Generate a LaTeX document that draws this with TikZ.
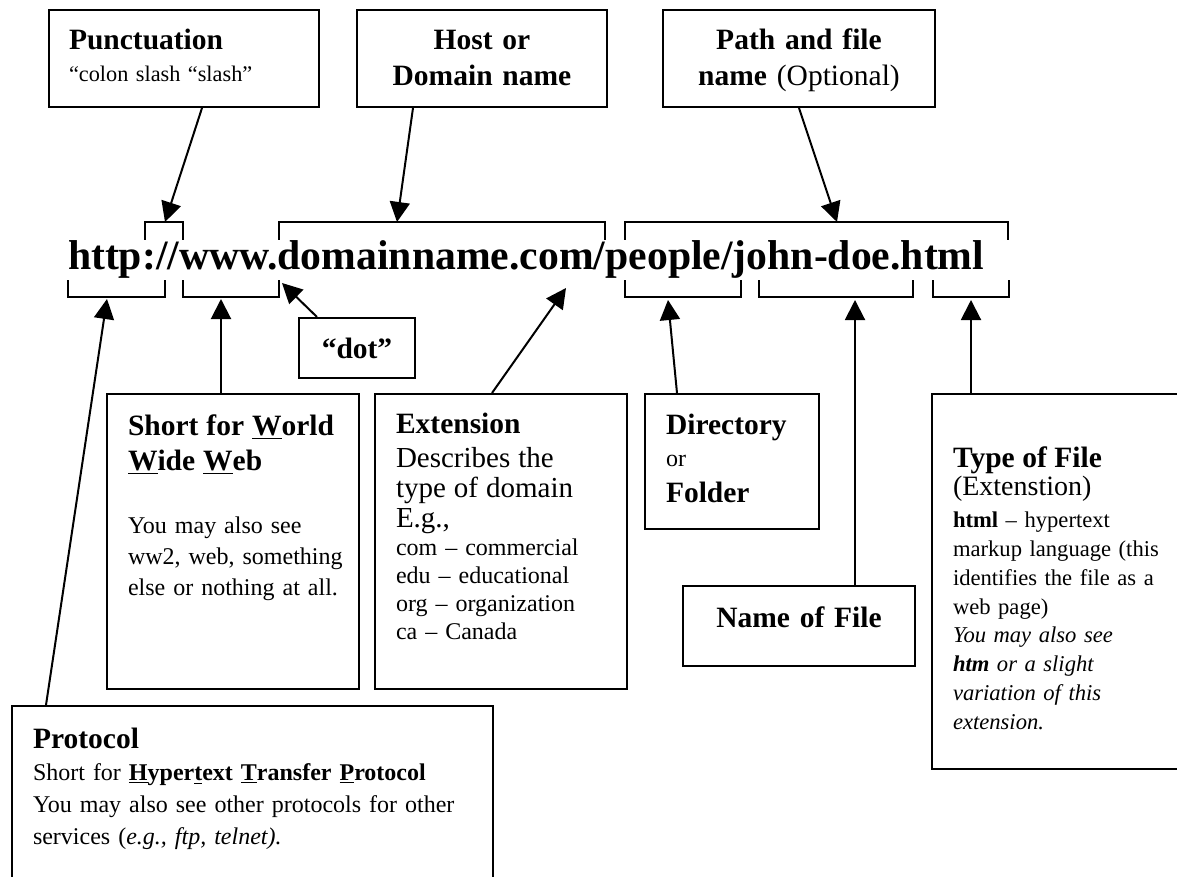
\documentclass[tikz,border=0pt]{standalone}
\usepackage{fontspec}
\setmainfont{Liberation Serif}
\usetikzlibrary{arrows.meta, calc, fit}

\newcommand\hd[1]{{\fontsize{14.75}{16}\selectfont\bfseries #1}}
\tikzset{
  box/.style={draw, line width=1pt, inner sep=0pt},
  txt/.style={inner sep=0pt, text width=#1, align=left, anchor=base west},
  txt/.default=220pt,
  ctxt/.style={inner sep=0pt, text width=#1, align=center, anchor=base},
}

\begin{document}
\begin{tikzpicture}[x=0.5pt, y=-0.5pt, line width=1pt, >={Triangle[width=10pt, length=10pt]}]
  \useasboundingbox (0,0) rectangle (1177,877);
  \clip (0,0) rectangle (1177,877);

  % the address
  \node[anchor=base west, inner sep=0pt, font=\fontsize{20.85}{24}\selectfont\bfseries] (url) at (67,270)
    {http://www.domainname.com/people/john-doe.html};
  \foreach \a/\b in {145/183, 279/605, 625/1008}
    \draw (\a,240) |- (\b,222) -- (\b,240);
  \foreach \a/\b in {68/165, 183/279, 625/741, 759/913, 933/1009}
    \draw (\a,280) |- (\b,297) -- (\b,280);

  \coordinate (punctTip) at (165,222);
  \coordinate (hostTip) at (397,222);
  \coordinate (pathTip) at (837,222);
  \coordinate (protoTip) at (107,299);
  \coordinate (wwwTip) at (221,299);
  \coordinate (dotTip) at (282,283);
  \coordinate (extTip) at (566,288);
  \coordinate (dirTip) at (668,300);
  \coordinate (nameTip) at (855,300);
  \coordinate (typeTip) at (971,300);

  % boxes above
  \node[box, fit={(49,10) (319,107)}] (punct) {};
  \node[txt, font=\fontsize{11.15}{16}\selectfont] (punctT) at (68,50)
    {\hd{Punctuation}\\ “colon slash “slash”};
  \node[box, fit={(357,10) (607,107)}] (host) {};
  \node[ctxt=125pt, font=\fontsize{14.75}{18}\selectfont\bfseries] (hostT) at (482,50)
    {Host or\\ Domain name};
  \node[box, fit={(663,10) (935,107)}] (filepath) {};
  \node[ctxt=136pt, font=\fontsize{14.75}{18}\selectfont\bfseries] (filepathT) at (799,50)
    {Path and file\\ name {\mdseries (Optional)}};

  % boxes below
  \node[box, fit={(299,318) (415,378)}] (dot) {};
  \node[ctxt=58pt, font=\fontsize{14.75}{16}\selectfont\bfseries] (dotT) at (357,358) {“dot”};

  \node[box, fit={(107,394) (359,689)}] (www) {};
  \node[txt, font=\fontsize{12}{15.5}\selectfont] (wwwT) at (127,435)
    {\hd{Short for \underline{W}orld}\\[2pt]
     \hd{\underline{W}ide \underline{W}eb}\\[16pt]
     You may also see\\ ww2, web, something\\ else or nothing at all.};

  \node[box, fit={(375,394) (627,689)}] (ext) {};
  \node[txt, font=\fontsize{12}{14}\selectfont] (extT) at (395,433)
    {\hd{Extension}\\[3pt]
     {\fontsize{14.5}{14}\selectfont Describes the\\[1pt] type of domain\\[1pt] E.g.,}\\
     com – commercial\\ edu – educational\\ org – organization\\ ca – Canada};

  \node[box, fit={(645,394) (819,529)}] (dir) {};
  \node[txt, font=\fontsize{12}{16}\selectfont] (dirT) at (665,434)
    {\hd{Directory}\\ or\\[2pt] \hd{Folder}};

  \node[box, fit={(683,586) (915,666)}] (fname) {};
  \node[ctxt=116pt, font=\fontsize{14.75}{16}\selectfont\bfseries] (fnameT) at (799,627) {Name of File};

  \node[box, fit={(932,394) (1200,769)}] (ftype) {};
  \node[txt, font=\fontsize{11.3}{14.4}\selectfont] (ftypeT) at (952,467)
    {\hd{Type of File}\\
     {\fontsize{14}{14.4}\selectfont (Extenstion)}\\[1.5pt]
     \textbf{html} – hypertext\\ markup language (this\\ identifies the file as a\\ web page)\\
     \textit{You may also see}\\ \textit{\textbf{htm} or a slight}\\
     \textit{variation of this}\\ \textit{extension.}};

  \node[box, fit={(12,706) (493,900)}] (proto) {};
  \node[txt=240pt, font=\fontsize{12}{16}\selectfont] (protoT) at (32,748)
    {\hd{Protocol}\\
     Short for \textbf{\underline{H}yper\underline{t}ext \underline{T}ransfer \underline{P}rotocol}\\
     You may also see other protocols for other\\
     services (\textit{e.g., ftp, telnet).}};

  % arrows
  \draw[->] ($(punct.south)+(18,0)$) -- (punctTip);
  \draw[->] ($(host.south)+(-69,0)$) -- (hostTip);
  \draw[->] (filepath.south) -- (pathTip);
  \draw[->] ($(dot.north)+(-40,0)$) -- (dotTip);
  \draw[->] (www.north -| wwwTip) -- (wwwTip);
  \draw[->] ($(ext.north)+(-9,0)$) -- (extTip);
  \draw[->] ($(dir.north)+(-55,0)$) -- (dirTip);
  \draw[->] (fname.north -| nameTip) -- (nameTip);
  \draw[->] (ftype.north -| typeTip) -- (typeTip);
  \draw[->] ($(proto.north west)+(35,0)$) -- (protoTip);
\end{tikzpicture}
\end{document}
